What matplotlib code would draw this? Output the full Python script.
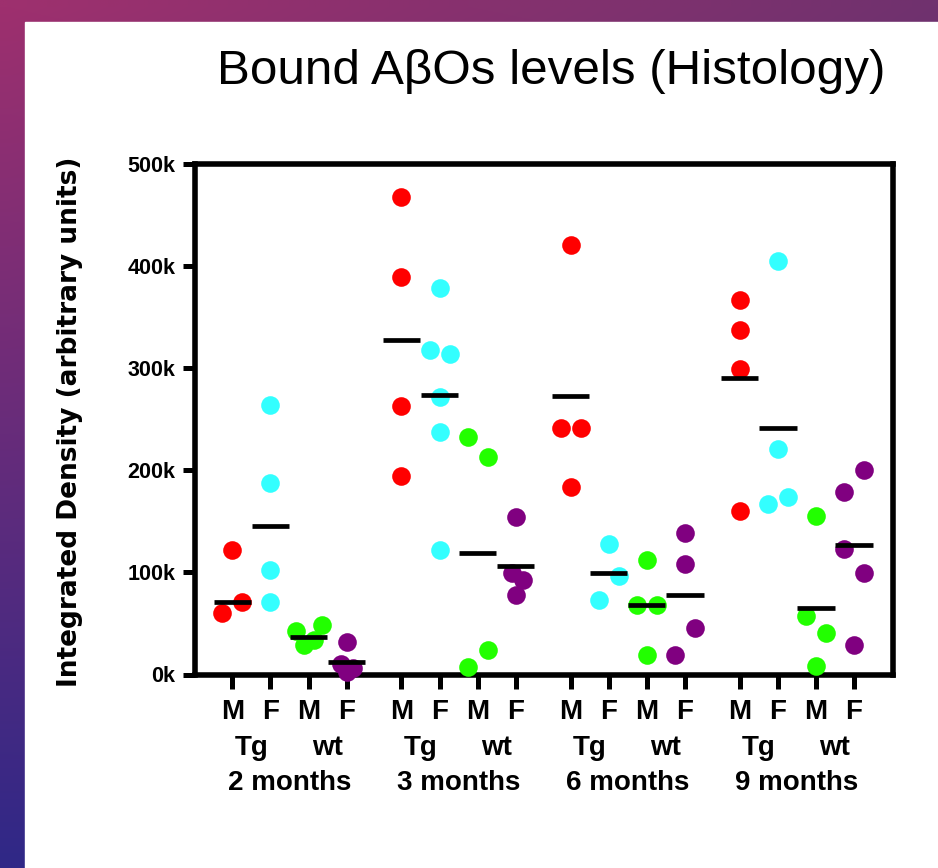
import numpy as np
import matplotlib
matplotlib.use('Agg')
import matplotlib.pyplot as plt
from matplotlib.patches import Rectangle
from matplotlib.transforms import blended_transform_factory

plt.rcParams['font.family'] = ['Liberation Sans', 'DejaVu Sans']

groups = ['2 months', '3 months', '6 months', '9 months']
sexes = ['M', 'F', 'M', 'F']
genotypes = ['Tg', 'wt']

# values in k (thousands); one inner list per age group
tg_m = [[122, 71.4, 60.6], [467.5, 389.4, 262.5, 194.6],
        [420.8, 241.4, 241.4, 183.5], [367, 337.2, 299.3, 160]]
tg_f = [[264, 188, 102.5, 70.8], [378.6, 317.5, 314, 271.8, 237.5, 122],
        [127.6, 96.9, 73], [404.9, 221.3, 173.8, 166.9]]
wt_m = [[48.5, 43, 34, 29], [233, 212.6, 24, 7.6],
        [112.3, 68, 68, 19], [154.9, 56.9, 40.4, 8]]
wt_f = [[31.5, 10, 6, 2], [154, 99, 92.6, 78],
        [138.4, 108, 45.3, 19], [200.6, 178.9, 122.8, 99.9, 29.3]]

# horizontal column of each dot in the scatter (0 = on the tick)
tg_m_side = [[0, 1, -1], [0, 0, 0, 0], [0, -1, 1, 0], [0, 0, 0, 0]]
tg_f_side = [[0, 0, 0, 0], [0, -1, 1, 0, 0, 0], [0, 1, -1], [0, 0, 1, -1]]
wt_m_side = [[1.3, -1.3, 0.5, -0.5], [-1, 1, 1, -1], [0, -1, 1, 0], [0, -1, 1, 0]]
wt_f_side = [[0, -0.6, 0.6, 0], [0, -0.4, 0.7, 0], [0, 0, 1, -1], [1, -1, -1, 1, 0]]

# group lines (mean), in k
tg_m_mean = [71.4, 328, 272.3, 290.7]
tg_f_mean = [145.6, 274, 99.2, 241.6]
wt_m_mean = [37, 119.4, 68, 65.1]
wt_f_mean = [12.5, 106, 78, 126.4]

series = [(tg_m, tg_m_side, tg_m_mean, '#ff0000'),
          (tg_f, tg_f_side, tg_f_mean, '#33ffff'),
          (wt_m, wt_m_side, wt_m_mean, '#22ff00'),
          (wt_f, wt_f_side, wt_f_mean, '#800080')]

W, H = 938, 868
fig = plt.figure(figsize=(W / 100, H / 100), dpi=100)

# slide background with the white panel
bg = fig.add_axes([0, 0, 1, 1])
t = np.linspace(0, 1, 64)
top = np.array([158, 48, 110]) / 255
right = np.array([112, 50, 110]) / 255
bottom = np.array([48, 40, 135]) / 255
grad = (top[None, None, :] * (1 - t)[:, None, None] * (1 - t)[None, :, None]
        + right[None, None, :] * (1 - t)[:, None, None] * t[None, :, None]
        + bottom[None, None, :] * t[:, None, None])
bg.imshow(grad, aspect='auto', extent=[0, 1, 0, 1], interpolation='bilinear')
bg.add_patch(Rectangle((25 / W, 0), 1, 1 - 22 / H, color='white'))
bg.set_xlim(0, 1)
bg.set_ylim(0, 1)
bg.axis('off')

ax = fig.add_axes([195 / W, 1 - 674.5 / H, (893.3 - 195) / W, (674.5 - 164) / H])

gap = 4.44
step = 10 / 38.1
positions = []
for g in range(len(groups)):
    for i, (vals, side, means, col) in enumerate(series):
        x0 = g * gap + i
        positions.append(x0)
        xs = x0 + np.array(side[g]) * step
        ys = np.array(vals[g]) * 1000
        ax.scatter(xs, ys, s=180, c=col, linewidths=0, zorder=3, clip_on=False)
        ax.hlines(means[g] * 1000, x0 - 0.49, x0 + 0.49, color='black',
                  lw=3.4, zorder=4, clip_on=False)

ax.set_xlim(-0.98, 17.35)
ax.set_ylim(0, 500000)
yt = np.arange(0, 500001, 100000)
ax.set_yticks(yt)
ax.set_yticklabels([f'{v // 1000}k' for v in yt], fontsize=15.5, fontweight='bold')
ax.set_xticks(positions)
ax.set_xticklabels(sexes * len(groups), fontsize=20, fontweight='bold')
ax.tick_params(axis='y', direction='out', length=9, width=3.6, pad=5)
ax.tick_params(axis='x', direction='out', length=10.4, width=3.6, pad=7)
for sp in ax.spines.values():
    sp.set_linewidth(4)
    sp.set_capstyle('projecting')

trans = blended_transform_factory(ax.transData, fig.transFigure)
for g, name in enumerate(groups):
    for k, gt in enumerate(genotypes):
        ax.text(g * gap + 2 * k + 0.5, 1 - 755 / H, gt, transform=trans,
                ha='center', va='baseline', fontsize=20, fontweight='bold')
    ax.text(g * gap + 1.5, 1 - 790 / H, name, transform=trans,
            ha='center', va='baseline', fontsize=20, fontweight='bold')

fig.text(70 / W, 1 - 422 / H, 'Integrated Density (arbitrary units)',
         rotation=90, ha='center', va='center', fontsize=19,
         fontweight='bold', family=['DejaVu Sans'])
fig.text(551 / W, 1 - 84 / H, 'Bound A\u03b2Os levels (Histology)',
         ha='center', va='baseline', fontsize=35.6)

fig.savefig('out.png', dpi=100)
